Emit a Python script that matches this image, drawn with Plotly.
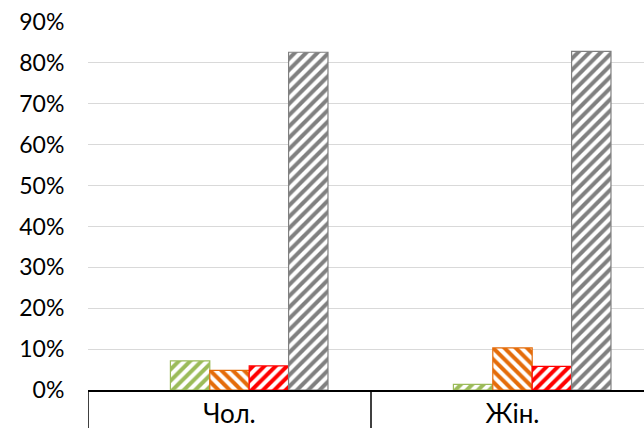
import plotly.graph_objects as go

categories = ["Чол.", "Жін."]
series_names = ["", "Зелений", "Помаранчевий", "Червоний", "Сірий"]
blank_values = [None, None]
green_values = [0.071, 0.014]
orange_values = [0.048, 0.103]
red_values = [0.059, 0.058]
gray_values = [0.826, 0.828]
y_tick_values = [0, 0.1, 0.2, 0.3, 0.4, 0.5, 0.6, 0.7, 0.8, 0.9]

colors = ["#FFFFFF", "#9BBB59", "#E46C0A", "#FF0000", "#808080"]
shapes_hatch = ["", "/", "\\", "/", "/"]
all_values = [blank_values, green_values, orange_values, red_values, gray_values]

fig = go.Figure()
for name, vals, c, h in zip(series_names, all_values, colors, shapes_hatch):
    marker = dict(color="white", line=dict(color=c, width=1.2))
    if h:
        marker["pattern"] = dict(shape=h, fgcolor=c, bgcolor="white",
                                 size=8, solidity=0.5, fillmode="replace")
    else:
        marker["line"]["width"] = 0
    fig.add_trace(go.Bar(x=categories, y=vals, name=name, marker=marker,
                         showlegend=False, hoverinfo="skip"))

W, H = 644, 428
ml, mt, mb = 88, 22, 38
cat_px = 283
plot_w = W - ml
plot_h = H - mt - mb

shapes = []
for i in range(len(categories)):
    shapes.append(dict(type="line", xref="x", yref="paper",
                       x0=i - 0.5, x1=i - 0.5, y0=0, y1=-(mb + 2) / plot_h,
                       line=dict(color="black", width=1.5), layer="above"))

fig.update_layout(
    width=W, height=H,
    margin=dict(l=ml, r=0, t=mt, b=mb, pad=0, autoexpand=False),
    paper_bgcolor="white", plot_bgcolor="white",
    barmode="group", bargap=0.304, bargroupgap=0,
    font=dict(family="Lato, Carlito, Calibri, sans-serif", color="black"),
    shapes=shapes,
    xaxis=dict(
        range=[-0.5, -0.5 + plot_w / cat_px],
        automargin=False,
        showline=True, linecolor="black", linewidth=1.5,
        showgrid=False, ticks="",
        tickfont=dict(size=26, color="black"),
        fixedrange=True,
    ),
    yaxis=dict(
        range=[0, 0.9],
        automargin=False,
        tickvals=y_tick_values, tickformat=".0%",
        showgrid=True, gridcolor="#D9D9D9", gridwidth=1,
        zeroline=False, showline=False,
        ticks="outside", ticklen=18, tickcolor="rgba(0,0,0,0)",
        tickfont=dict(size=23, color="black"),
        fixedrange=True,
    ),
)

fig.write_html(
    "out.html",
    config={"displayModeBar": False},
    post_script="document.body.style.margin='0';document.body.style.overflow='hidden';",
)
